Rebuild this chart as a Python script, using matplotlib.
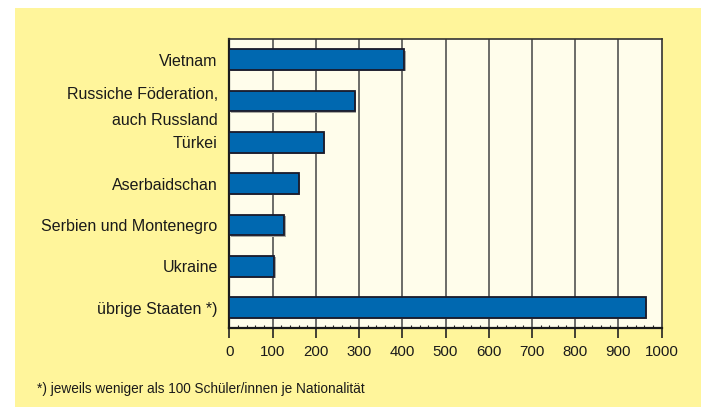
import numpy as np
import matplotlib.pyplot as plt
from matplotlib.patches import Rectangle
from matplotlib.ticker import MultipleLocator

plt.rcParams['font.family'] = ['Liberation Sans', 'DejaVu Sans']

# data, top to bottom
laender = ["Vietnam", "Russiche Föderation,\nauch Russland", "Türkei", "Aserbaidschan",
           "Serbien und Montenegro", "Ukraine", "übrige Staaten *)"]
schueler = [405, 290, 219, 161, 127, 104, 964]
xticks = list(range(0, 1001, 100))

fig = plt.figure(figsize=(7.01, 4.07), dpi=100)
fig.patch.set_facecolor('white')
# yellow panel
fig.patches.append(Rectangle((15/701, 0), 1 - 15/701, (407 - 8)/407, transform=fig.transFigure,
                             facecolor='#fff59b', edgecolor='none', zorder=0))

ax = fig.add_axes([229.5/701, (407 - 328.3)/407, 432/701, 289.3/407])
ax.set_zorder(2)
ax.set_facecolor('#fffdeb')

y = np.arange(len(laender))
# slight shadow, then the bars
ax.barh(y + 0.03, schueler, height=0.5, left=3, color='#a8a8a0', zorder=2)
ax.barh(y, schueler, height=0.5, color='#0068b0', edgecolor='#1a1a2a', linewidth=1.3, zorder=3)

ax.set_xlim(0, 1000)
ax.set_ylim(len(laender) - 0.5, -0.5)
ax.set_yticks(y)
ax.set_yticklabels(laender, fontsize=11.5, color='#1a1a1a', linespacing=1.9)
ax.set_xticks(xticks)
ax.set_xticklabels([str(v) for v in xticks], fontsize=10.8, color='#1a1a1a')
ax.xaxis.set_minor_locator(MultipleLocator(20))
ax.tick_params(axis='y', length=0, pad=8.5)
ax.tick_params(axis='x', which='major', length=7, width=1.2, color='#222222', pad=5)
ax.tick_params(axis='x', which='minor', direction='in', length=2, width=0.8, color='#222222')

for v in xticks[1:-1]:
    ax.axvline(v, color='#444444', linewidth=1.1, zorder=1)

for s in ['left', 'bottom']:
    ax.spines[s].set_linewidth(1.6)
    ax.spines[s].set_color('#1a1a1a')
for s in ['top', 'right']:
    ax.spines[s].set_linewidth(1.2)
    ax.spines[s].set_color('#333333')

fig.text(37/701, 1 - 389/407, "*) jeweils weniger als 100 Schüler/innen je Nationalität",
         fontsize=9.8, color='#1a1a1a', va='center', ha='left', zorder=3)

fig.savefig('out.png', dpi=100, facecolor=fig.get_facecolor())
